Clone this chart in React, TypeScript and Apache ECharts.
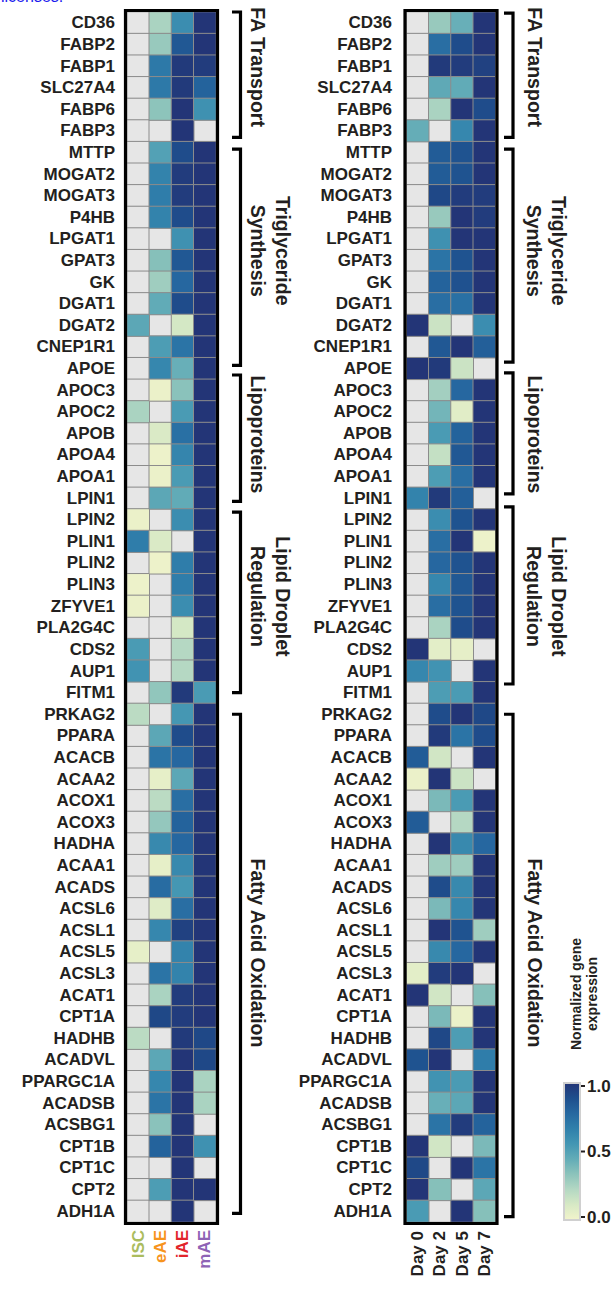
import React, { useEffect, useRef } from "react";
import * as echarts from "echarts";

// ---------- data ----------
const genes = [
  "CD36", "FABP2", "FABP1", "SLC27A4", "FABP6", "FABP3",
  "MTTP", "MOGAT2", "MOGAT3", "P4HB", "LPGAT1", "GPAT3", "GK", "DGAT1", "DGAT2", "CNEP1R1", "APOE",
  "APOC3", "APOC2", "APOB", "APOA4", "APOA1", "LPIN1",
  "LPIN2", "PLIN1", "PLIN2", "PLIN3", "ZFYVE1", "PLA2G4C", "CDS2", "AUP1", "FITM1",
  "PRKAG2", "PPARA", "ACACB", "ACAA2", "ACOX1", "ACOX3", "HADHA", "ACAA1", "ACADS", "ACSL6",
  "ACSL1", "ACSL5", "ACSL3", "ACAT1", "CPT1A", "HADHB", "ACADVL", "PPARGC1A", "ACADSB", "ACSBG1",
  "CPT1B", "CPT1C", "CPT2", "ADH1A",
];

const leftColumns = ["ISC", "eAE", "iAE", "mAE"];
const leftColumnColors = ["#abbc5e", "#f7941d", "#e2242b", "#8e63b5"];
const rightColumns = ["Day 0", "Day 2", "Day 5", "Day 7"];

const N = null; // not detected (drawn grey)

const iscValues = [
  N, N, N, N, N, N,
  N, N, N, N, N, N, N, N, 0.47, N, N,
  N, 0.25, N, N, N, N,
  0.03, 0.68, N, 0.02, 0.03, N, 0.53, 0.57, N,
  0.2, N, N, N, N, N, N, N, N, N,
  N, 0.05, N, N, N, 0.2, N, N, N, N,
  N, N, N, N,
];
const eaeValues = [
  0.25, 0.3, 0.7, 0.7, 0.33, N,
  0.5, 0.65, 0.68, 0.65, N, 0.35, 0.28, 0.45, N, 0.52, 0.63,
  0.03, N, 0.1, 0.02, 0.03, 0.47,
  N, 0.1, 0.02, N, N, N, N, N, 0.32,
  N, 0.47, 0.72, 0.05, 0.2, 0.31, 0.62, 0.05, 0.76, 0.08,
  0.63, N, 0.72, 0.25, 0.92, N, 0.47, 0.63, 0.72, 0.34,
  0.8, N, 0.52, N,
];
const iaeValues = [
  0.6, 0.85, 0.98, 0.98, 1, 1,
  0.9, 0.97, 0.97, 0.9, 0.58, 0.85, 0.78, 0.9, 0.12, 0.72, 0.43,
  0.34, 0.53, 0.74, 0.64, 0.53, 0.45,
  0.6, N, 0.68, 0.68, 0.6, 0.12, 0.22, 0.22, 0.98,
  0.55, 0.9, 0.78, 0.47, 0.75, 0.8, 0.78, 0.62, 0.55, 0.75,
  0.95, 0.65, 0.65, 0.97, 0.97, 0.98, 1, 1, 1, 1,
  1, 1, 1, 1,
];
const maeValues = [
  1, 1, 0.97, 0.8, 0.58, N,
  1, 1, 1, 1, 1, 1, 1, 1, 1, 1, 1,
  1, 1, 1, 1, 1, 1,
  1, 1, 1, 1, 1, 1, 1, 1, 0.53,
  1, 1, 1, 1, 1, 1, 1, 1, 1, 1,
  1, 1, 1, 1, 1, 0.92, 0.92, 0.25, 0.25, N,
  0.58, N, 1, N,
];

const day0Values = [
  N, N, N, N, N, 0.44,
  N, N, N, N, N, N, N, N, 1, N, 1,
  N, N, N, N, N, 0.65,
  N, N, N, N, N, N, 1, 0.63, N,
  N, N, 0.83, 0.03, N, 0.83, N, N, N, N,
  N, N, 0.06, 1, N, N, 0.87, N, N, N,
  1, 0.92, 1, 0.53,
];
const day2Values = [
  0.3, 0.75, 0.98, 0.46, 0.25, N,
  0.83, 0.83, 0.92, 0.3, 0.58, 0.72, 0.8, 0.75, 0.15, 0.85, 0.98,
  0.27, 0.4, 0.53, 0.17, 0.52, 0.98,
  0.6, 0.75, 0.78, 0.63, 0.75, 0.25, 0.06, 0.57, 0.52,
  0.9, 0.98, 0.13, 1, 0.38, N, 1, 0.28, 0.9, 0.38,
  1, 0.62, 0.97, 0.13, 0.38, 0.92, 1, 0.57, 0.43, 0.72,
  0.13, N, 0.35, N,
];
const day5Values = [
  0.43, 0.9, 0.97, 0.45, 1, 0.63,
  0.87, 0.87, 0.97, 1, 1, 0.87, 0.88, 0.74, N, 1, 0.15,
  0.78, 0.07, 0.8, 0.85, 0.75, 0.82,
  0.87, 1, 0.87, 0.85, 0.87, 0.9, 0.05, N, 0.53,
  1, 0.72, N, 0.15, 0.53, 0.22, 0.62, 0.28, 0.62, 0.63,
  0.87, 0.78, 1, N, 0.03, 0.52, N, 0.53, 0.47, 0.97,
  N, 1, N, 1,
];
const day7Values = [
  1, 1, 0.95, 1, 0.9, 1,
  1, 1, 0.97, 0.97, 1, 1, 1, 1, 0.6, 0.82, N,
  1, 1, 1, 1, 1, N,
  1, 0.02, 1, 1, 1, 1, N, 1, 1,
  0.92, 0.9, 1, N, 1, 1, 0.78, 1, 1, 1,
  0.28, 1, N, 0.35, 1, 1, 0.68, 1, 1, 0.8,
  0.38, 0.72, 0.47, 0.35,
];

const groupNames = [
  "FA Transport",
  "Triglyceride\nSynthesis",
  "Lipoproteins",
  "Lipid Droplet\nRegulation",
  "Fatty Acid Oxidation",
];
const groupFirstGene = ["CD36", "MTTP", "APOC3", "LPIN2", "PRKAG2"];
const groupLastGene = ["FABP3", "APOE", "LPIN1", "FITM1", "ADH1A"];

const colorbarTicks = [0, 0.5, 1];
const colorbarTitle = "Normalized gene\nexpression";

// ---------- styling / layout ----------
const PALETTE = [
  "#f2f4cb", "#d7e9c5", "#b4d8c3", "#8cc3bb", "#63acb7",
  "#4396b3", "#3080ab", "#2668a0", "#1e4f8d", "#233577",
];
const GREY = "#e6e6e6";
const CELL_BORDER = "#8c8c8c";
const TEXT = "#231f20";
const FONT = "'Liberation Sans', Arial, Helvetica, sans-serif";

const GRID_TOP = 12;
const GRID_H = 1210;
const GRID_W = 89;
const LEFT_GRID_X = 127;
const RIGHT_GRID_X = 406.5;
const ROW_H = GRID_H / genes.length;

// bracket insets (in rows) per side
const leftBracketPad = [[0, 0.2], [0.35, 0.65], [-0.2, 0.35], [0.15, 0.5], [0.5, 0.4]];
const rightBracketPad = [[0.05, 0.2], [0.35, 0.8], [-0.3, 0.7], [-0.1, 0.9], [0.5, 0.25]];

function rowY(r: number) {
  return GRID_TOP + r * ROW_H;
}

function buildSeries(cols: (number | null)[][], axisIndex: number) {
  const grey: number[][] = [];
  const colored: number[][] = [];
  cols.forEach((col, j) =>
    col.forEach((v, i) => {
      if (v === null) grey.push([j, i, 0]);
      else colored.push([j, i, v]);
    })
  );
  return [
    {
      type: "heatmap",
      xAxisIndex: axisIndex,
      yAxisIndex: axisIndex,
      data: grey,
      itemStyle: { borderColor: CELL_BORDER, borderWidth: 1 },
      emphasis: { disabled: true },
    },
    {
      type: "heatmap",
      xAxisIndex: axisIndex,
      yAxisIndex: axisIndex,
      data: colored,
      itemStyle: { borderColor: CELL_BORDER, borderWidth: 1 },
      emphasis: { disabled: true },
    },
  ];
}

function bracketGraphics(
  pads: number[][],
  tickX: number,
  lineX: number,
  singleX: number,
  doubleX: number
) {
  const out: any[] = [];
  groupNames.forEach((name, g) => {
    const r0 = genes.indexOf(groupFirstGene[g]);
    const r1 = genes.indexOf(groupLastGene[g]) + 1;
    const y1 = rowY(r0 + pads[g][0]);
    const y2 = rowY(r1 - pads[g][1]);
    out.push({
      type: "polyline",
      z: 100,
      shape: { points: [[tickX, y1], [lineX, y1], [lineX, y2], [tickX, y2]] },
      style: { stroke: "#000", lineWidth: 3.2, fill: null, lineJoin: "miter" },
    });
    const twoLines = name.indexOf("\n") >= 0;
    out.push({
      type: "text",
      z: 100,
      x: twoLines ? doubleX : singleX,
      y: rowY((r0 + r1) / 2 - 0.45),
      rotation: -Math.PI / 2,
      style: {
        text: name,
        fontSize: 19.5,
        fontWeight: "bold",
        fontFamily: FONT,
        fill: TEXT,
        align: "center",
        verticalAlign: "middle",
        lineHeight: 25,
      },
    });
  });
  return out;
}

function frame(x: number) {
  return {
    type: "rect",
    z: 100,
    shape: { x: x - 1.5, y: GRID_TOP - 1.5, width: GRID_W + 3, height: GRID_H + 3 },
    style: { fill: null, stroke: "#000", lineWidth: 3.2 },
  };
}

function colorbarGraphics() {
  const barX = 564;
  const barTop = 1083;
  const barH = 137;
  const valTop = 1086;
  const valH = 131;
  const out: any[] = [];
  out.push({
    type: "rect",
    z: 100,
    shape: { x: barX, y: barTop, width: 16, height: barH },
    style: {
      stroke: "#d0d0d0",
      lineWidth: 2,
      fill: {
        type: "linear",
        x: 0,
        y: 0,
        x2: 0,
        y2: 1,
        colorStops: PALETTE.slice()
          .reverse()
          .map((c, i) => ({ offset: i / (PALETTE.length - 1), color: c })),
      },
    },
  });
  colorbarTicks.forEach((t) => {
    const y = valTop + (1 - t) * valH;
    out.push({
      type: "line",
      z: 100,
      shape: { x1: barX + 17, y1: y, x2: barX + 21, y2: y },
      style: { stroke: TEXT, lineWidth: 2 },
    });
    out.push({
      type: "text",
      z: 100,
      x: barX + 23,
      y: y,
      style: {
        text: t.toFixed(1),
        fontSize: 17,
        fontWeight: "bold",
        fontFamily: FONT,
        fill: TEXT,
        align: "left",
        verticalAlign: "middle",
      },
    });
  });
  out.push({
    type: "text",
    z: 100,
    x: 584,
    y: 994,
    rotation: Math.PI / 2,
    style: {
      text: colorbarTitle,
      fontSize: 14,
      fontWeight: "bold",
      fontFamily: FONT,
      fill: TEXT,
      align: "center",
      verticalAlign: "middle",
      lineHeight: 16,
    },
  });
  return out;
}

export default function App() {
  const ref = useRef<HTMLDivElement>(null);

  useEffect(() => {
    if (!ref.current) return;
    const chart = echarts.init(ref.current, null, { renderer: "svg" });

    const yAxisCommon = (gridIndex: number, margin: number) => ({
      type: "category",
      gridIndex,
      data: genes,
      inverse: true,
      axisLine: { show: false },
      axisTick: { show: false },
      splitLine: { show: false },
      axisLabel: {
        interval: 0,
        margin,
        fontSize: 17,
        fontWeight: "bold",
        fontFamily: FONT,
        color: TEXT,
      },
    });

    const xAxisCommon = (gridIndex: number, data: any[], margin: number) => ({
      type: "category",
      gridIndex,
      data,
      position: "bottom",
      axisLine: { show: false },
      axisTick: { show: false },
      splitLine: { show: false },
      axisLabel: {
        interval: 0,
        rotate: 90,
        margin,
        fontSize: 17,
        fontWeight: "bold",
        fontFamily: FONT,
        color: TEXT,
      },
    });

    const option: any = {
      animation: false,
      backgroundColor: "#ffffff",
      grid: [
        { left: LEFT_GRID_X, top: GRID_TOP, width: GRID_W, height: GRID_H, containLabel: false, outerBoundsMode: "none" },
        { left: RIGHT_GRID_X, top: GRID_TOP, width: GRID_W, height: GRID_H, containLabel: false, outerBoundsMode: "none" },
      ],
      xAxis: [
        xAxisCommon(
          0,
          leftColumns.map((c, i) => ({ value: c, textStyle: { color: leftColumnColors[i] } })),
          8
        ),
        xAxisCommon(1, rightColumns, 9),
      ],
      yAxis: [yAxisCommon(0, 12), yAxisCommon(1, 14.5)],
      visualMap: [
        {
          show: false,
          type: "continuous",
          seriesIndex: [1, 3],
          min: 0,
          max: 1,
          inRange: { color: PALETTE },
        },
        {
          show: false,
          type: "continuous",
          seriesIndex: [0, 2],
          min: 0,
          max: 1,
          inRange: { color: [GREY, GREY] },
        },
      ],
      series: [
        ...buildSeries([iscValues, eaeValues, iaeValues, maeValues], 0),
        ...buildSeries([day0Values, day2Values, day5Values, day7Values], 1),
      ],
      graphic: [
        {
          type: "text",
          x: 1,
          y: -12,
          style: {
            text: "licenses.",
            fontSize: 16,
            fontFamily: FONT,
            fill: "#1a1aee",
            align: "left",
            verticalAlign: "top",
          },
        },
        frame(LEFT_GRID_X),
        frame(RIGHT_GRID_X),
        ...bracketGraphics(leftBracketPad, 232, 240.5, 258, 270),
        ...bracketGraphics(rightBracketPad, 504, 513, 535, 546),
        ...colorbarGraphics(),
      ],
    };

    chart.setOption(option);
    return () => chart.dispose();
  }, []);

  return (
    <div
      ref={ref}
      style={{ position: "absolute", left: 0, top: 0, width: 613, height: 1289 }}
    />
  );
}
